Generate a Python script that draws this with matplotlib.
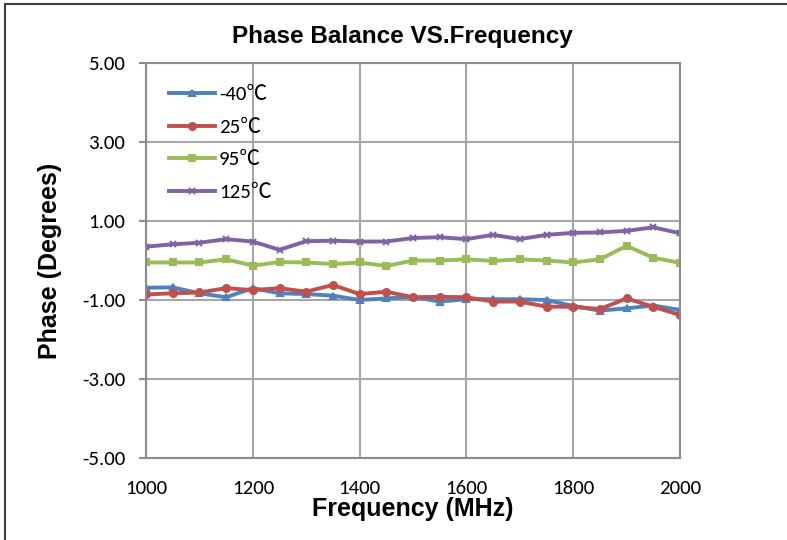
import matplotlib
matplotlib.use("Agg")
import matplotlib.pyplot as plt
from matplotlib.patches import Rectangle
from matplotlib.ticker import FormatStrFormatter

plt.rcParams['axes.unicode_minus'] = False

# data
freq = list(range(1000, 2050, 50))
labels = ["-40℃", "25℃", "95℃", "125℃"]
t_m40 = [-0.69, -0.68, -0.83, -0.93, -0.70, -0.83, -0.85, -0.89, -1.00, -0.96, -0.92,
         -1.04, -0.98, -0.98, -0.98, -1.00, -1.15, -1.27, -1.21, -1.14, -1.25]
t_25 = [-0.86, -0.83, -0.81, -0.70, -0.75, -0.70, -0.79, -0.62, -0.85, -0.79, -0.93,
        -0.92, -0.93, -1.04, -1.04, -1.17, -1.17, -1.23, -0.96, -1.17, -1.38]
t_95 = [-0.05, -0.05, -0.05, 0.03, -0.13, -0.04, -0.05, -0.09, -0.05, -0.14, 0.00,
        0.00, 0.03, -0.01, 0.03, 0.00, -0.05, 0.03, 0.37, 0.07, -0.06]
t_125 = [0.35, 0.41, 0.45, 0.54, 0.48, 0.27, 0.49, 0.50, 0.48, 0.48, 0.57,
         0.59, 0.54, 0.65, 0.54, 0.65, 0.70, 0.71, 0.75, 0.84, 0.69]

colors = ['#4F81BD', '#C0504D', '#9BBB59', '#8064A2']
markers = ['^', 'o', 's', 'x']

tick_font = ['Carlito', 'Lato', 'DejaVu Sans']
leg_font = ['Carlito', 'Lato', 'Noto Sans CJK SC', 'DejaVu Sans']
bold_font = ['Liberation Sans', 'DejaVu Sans']

fig = plt.figure(figsize=(7.87, 5.40), dpi=100)
ax = fig.add_axes([146/787, 1-458/540, (680-146)/787, (458-63)/540])

for ys, c, m, lab in zip([t_m40, t_25, t_95, t_125], colors, markers, labels):
    ax.plot(freq, ys, color=c, lw=2.8, marker=m, markersize=5,
            markeredgewidth=1.5, label=lab)

ax.set_xlim(1000, 2000)
ax.set_ylim(-5, 5)
ax.set_xticks(range(1000, 2001, 200))
ax.set_yticks([-5, -3, -1, 1, 3, 5])
ax.yaxis.set_major_formatter(FormatStrFormatter('%.2f'))
ax.grid(True, color='#a6a6a6', lw=1.5)
ax.set_axisbelow(True)
for s in ax.spines.values():
    s.set_color('#8c8c8c')
    s.set_linewidth(1.5)
ax.tick_params(axis='y', length=5, width=1.5, color='#8c8c8c', pad=10, labelsize=15)
ax.tick_params(axis='x', length=0, pad=16, labelsize=15)
for t in ax.get_xticklabels() + ax.get_yticklabels():
    t.set_family(tick_font)

ax.set_xlabel("Frequency (MHz)", fontsize=18, fontweight='bold',
              family=bold_font, labelpad=0)
ax.set_ylabel("Phase (Degrees)", fontsize=18, fontweight='bold',
              family=bold_font, labelpad=14)

fig.text(402/787, 1-37/540, "Phase Balance VS.Frequency", ha='center', va='center',
         fontsize=17.5, fontweight='bold', family=bold_font)

leg = ax.legend(loc='upper left', bbox_to_anchor=(0.008, 0.99), frameon=False,
                handlelength=2.2, handletextpad=0.2, labelspacing=0.72,
                prop={'family': leg_font, 'size': 15})

# outer chart border (cropped on the right and bottom)
fig.add_artist(Rectangle((5/787, -0.1), 1.2, 1.1 - 4/540, transform=fig.transFigure,
                         fill=False, edgecolor='#404040', lw=1.5))

fig.savefig("out.png", dpi=100)
